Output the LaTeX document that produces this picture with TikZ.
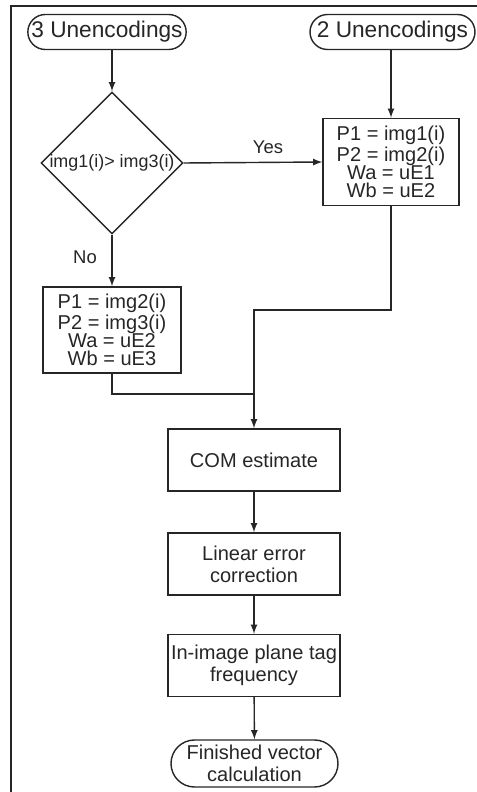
\documentclass[tikz,border=0pt]{standalone}
\usepackage{fontspec}
\setmainfont{Liberation Sans}
\usetikzlibrary{shapes.geometric,shapes.misc}

\begin{document}
\begin{tikzpicture}[>=latex, line width=0.8pt, draw=black!85, text=black!85,
  capsule/.style={draw, rounded rectangle, align=center, inner sep=0pt},
  box/.style={draw, rectangle, align=center, inner sep=0pt, minimum width=3.44cm, minimum height=1.24cm, font=\fontsize{11.4}{12.6}\selectfont},
  pbox/.style={draw, rectangle, align=center, inner sep=0pt, font=\fontsize{11.4}{10.4}\selectfont},
  decision/.style={draw, diamond, inner sep=0pt, minimum width=2.84cm, minimum height=2.84cm},
  tag/.style={font=\fontsize{10.5}{12}\selectfont}]
\useasboundingbox (0,0) rectangle (9.54,15.84);
\draw (0.22,0) -- (0.22,15.72) -- (9.54,15.72);

\node[capsule, minimum width=3.1cm, minimum height=0.7cm, font=\fontsize{12.9}{14}\selectfont] (u3) at (2.14,15.2) {3 Unencodings};
\node[capsule, minimum width=3.3cm, minimum height=0.7cm, font=\fontsize{12.9}{14}\selectfont] (u2) at (7.85,15.2) {2 Unencodings};

\node[decision] (dec) at (2.24,12.58) {};
\node[font=\fontsize{10.2}{12}\selectfont] (dectxt) at (dec) {img1(i)> img3(i)};

\node[pbox, minimum width=2.72cm, minimum height=1.74cm] (pa) at (7.82,12.6) {P1 = img1(i)\\P2 = img2(i)\\Wa = uE1\\Wb = uE2};
\node[pbox, minimum width=2.76cm, minimum height=1.72cm] (pb) at (2.24,9.24) {P1 = img2(i)\\P2 = img3(i)\\Wa = uE2\\Wb = uE3};

\node[tag] (yes) at (5.36,12.9) {Yes};
\node[tag] (no) at (1.7,10.7) {No};

\node[box] (com) at (5.08,6.64) {COM estimate};
\node[box] (lin) at (5.08,4.56) {Linear error\\correction};
\node[box] (inim) at (5.08,2.53) {In-image plane tag\\frequency};
\node[capsule, minimum width=3.34cm, minimum height=0.94cm, font=\fontsize{11.4}{12.6}\selectfont] (fin) at (5.09,0.57) {Finished vector\\calculation};

\coordinate (turn) at (5.08,9.64);
\coordinate (merge) at (5.08,7.96);

\draw[->] (dec.north |- u3.south) -- (dec.north);
\draw[->] (pa.north |- u2.south) -- (pa.north);
\draw[->] (dec.east) -- (pa.west);
\draw[->] (dec.south) -- (pb.north);
\draw[->] (pa.south) |- (turn) -- (com.north);
\draw (pb.south) |- (merge);
\draw[->] (com) -- (lin);
\draw[->] (lin) -- (inim);
\draw[->] (inim) -- (fin);
\end{tikzpicture}
\end{document}
